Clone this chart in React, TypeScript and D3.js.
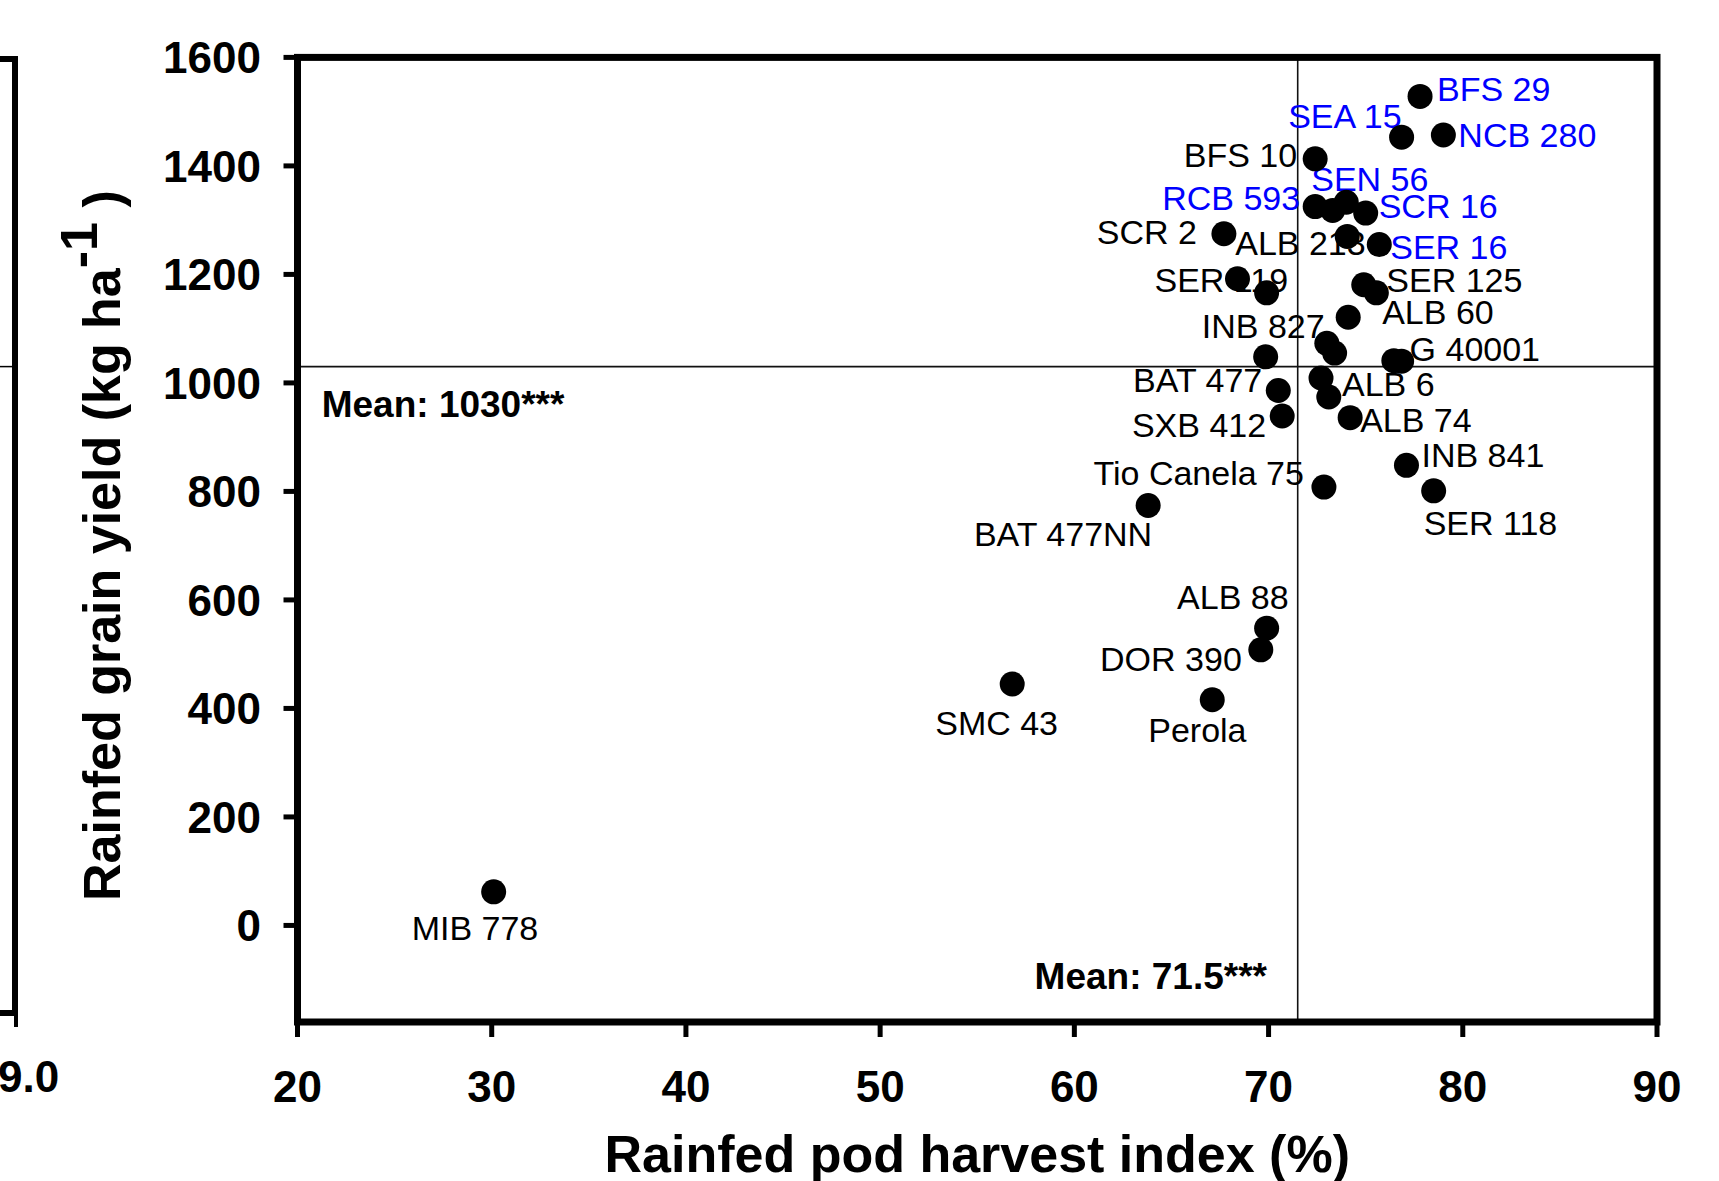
import React from "react";
import * as d3 from "d3";

// genotype, rainfed pod harvest index (%), rainfed grain yield (kg/ha)
const genotypes = [
  "MIB 778", "SMC 43", "Perola", "DOR 390", "ALB 88", "BAT 477NN", "Tio Canela 75",
  "INB 841", "SER 118", "ALB 74", "SXB 412", "BAT 477", "", "ALB 6", "INB 827",
  "", "", "", "G 40001", "ALB 60", "", "SER 125", "SER 119", "", "SCR 2",
  "ALB 213", "SER 16", "RCB 593", "", "SEN 56", "SCR 16", "BFS 10", "SEA 15",
  "NCB 280", "BFS 29",
];
const podHarvestIndex = [
  30.1, 56.8, 67.1, 69.6, 69.9, 63.8, 72.85,
  77.1, 78.5, 74.2, 70.7, 70.5, 73.1, 72.7, 69.85,
  73.0, 73.4, 76.45, 76.85, 74.1, 74.9, 75.55, 68.4, 69.9, 67.7,
  74.05, 75.7, 72.4, 73.3, 74.0, 75.0, 72.4, 76.85,
  79.0, 77.8,
];
const grainYield = [
  62, 445, 416, 508, 548, 774, 808,
  848, 801, 936, 939, 986, 974, 1009, 1048,
  1073, 1055, 1041, 1040, 1121, 1181, 1166, 1192, 1166, 1275,
  1270, 1255, 1325, 1318, 1333, 1313, 1413, 1453,
  1457, 1528,
];
// genotypes labelled in blue
const highlighted = ["BFS 29", "SEA 15", "NCB 280", "SEN 56", "RCB 593", "SCR 16", "SER 16"];

const xTicks = [20, 30, 40, 50, 60, 70, 80, 90];
const yTicks = [0, 200, 400, 600, 800, 1000, 1200, 1400, 1600];
const meanHI = 71.5;
const meanYield = 1030;

// label placement relative to its dot: [dx, dy, anchor]
const labelPos: Record<string, [number, number, string]> = {
  "MIB 778": [-82, 48, "start"],
  "SMC 43": [-77, 51, "start"],
  Perola: [-64, 42, "start"],
  "DOR 390": [-19, 21, "end"],
  "ALB 88": [22, -19, "end"],
  "BAT 477NN": [4, 40, "end"],
  "Tio Canela 75": [-20, -2, "end"],
  "INB 841": [15, 2, "start"],
  "SER 118": [-10, 44, "start"],
  "ALB 74": [10, 14, "start"],
  "SXB 412": [-16, 21, "end"],
  "BAT 477": [-16, 1, "end"],
  "ALB 6": [21, 18, "start"],
  "INB 827": [59, -19, "end"],
  "G 40001": [8, 0, "start"],
  "ALB 60": [34, 7, "start"],
  "SER 125": [10, -1, "start"],
  "SER 119": [-83, 13, "start"],
  "SCR 2": [-27, 10, "end"],
  "ALB 213": [-112, 19, "start"],
  "SER 16": [11, 14, "start"],
  "RCB 593": [-15, 3, "end"],
  "SEN 56": [-35, -11, "start"],
  "SCR 16": [13, 5, "start"],
  "BFS 10": [-18, 8, "end"],
  "SEA 15": [0, -9, "end"],
  "NCB 280": [15, 12, "start"],
  "BFS 29": [17, 5, "start"],
};

const W = 1719;
const H = 1181;
const FONT = "'Liberation Sans', Arial, Helvetica, sans-serif";

export default function App() {
  const x = d3.scaleLinear().domain([20, 90]).range([297.5, 1657]);
  const y = d3.scaleLinear().domain([-178, 1600]).range([1022, 57.4]);

  const points = genotypes.map((g, i) => ({
    name: g,
    px: x(podHarvestIndex[i]),
    py: y(grainYield[i]),
  }));

  const [x0, x1] = x.range();
  const [y0, y1] = y.range();

  return (
    <svg
      width={W}
      height={H}
      style={{ position: "absolute", left: 0, top: 0, display: "block", background: "#fff" }}
      fontFamily={FONT}
    >
      <rect width={W} height={H} fill="#fff" />

      {/* edge of the neighbouring panel */}
      <g stroke="#000" fill="none">
        <path d="M0,59 H15 V1013 H0" strokeWidth={6} />
        <line x1={16} x2={16} y1={1013} y2={1027} strokeWidth={4} />
        <line x1={0} x2={13} y1={366.6} y2={366.6} strokeWidth={1.5} />
      </g>
      <text x={-2} y={1092} fontSize={44} fontWeight="bold">9.0</text>

      {/* mean lines */}
      <line x1={x0} x2={x1} y1={y(meanYield)} y2={y(meanYield)} stroke="#111" strokeWidth={1.6} />
      <line x1={x(meanHI)} x2={x(meanHI)} y1={y1} y2={y0} stroke="#111" strokeWidth={1.6} />

      {/* frame */}
      <rect x={x0} y={y1} width={x1 - x0} height={y0 - y1} fill="none" stroke="#000" strokeWidth={7} />

      {/* y ticks */}
      {yTicks.map((t) => (
        <g key={"y" + t}>
          <line x1={x0 - 14} x2={x0} y1={y(t)} y2={y(t)} stroke="#000" strokeWidth={5} />
          <text x={261} y={y(t)} dy="0.36em" textAnchor="end" fontSize={44} fontWeight="bold">
            {t}
          </text>
        </g>
      ))}
      {/* x ticks */}
      {xTicks.map((t) => (
        <g key={"x" + t}>
          <line x1={x(t)} x2={x(t)} y1={y0} y2={y0 + 15} stroke="#000" strokeWidth={5} />
          <text x={x(t)} y={1102} textAnchor="middle" fontSize={44} fontWeight="bold">
            {t}
          </text>
        </g>
      ))}

      {/* axis titles */}
      <text x={(x0 + x1) / 2} y={1172} textAnchor="middle" fontSize={52} fontWeight="bold">
        Rainfed pod harvest index (%)
      </text>
      <text transform="translate(120,901) rotate(-90)" fontSize={52} fontWeight="bold">
        Rainfed grain yield (kg ha
        <tspan dy={-23}>-1</tspan>
        <tspan dy={23}> )</tspan>
      </text>

      {/* mean annotations */}
      <text x={321.7} y={416.7} fontSize={37} fontWeight="bold">
        Mean: {meanYield}***
      </text>
      <text x={1267} y={989} textAnchor="end" fontSize={37} fontWeight="bold">
        Mean: {meanHI}***
      </text>

      {/* labels */}
      {points.map((p, i) =>
        p.name && labelPos[p.name] ? (
          <text
            key={"l" + i}
            x={p.px + labelPos[p.name][0]}
            y={p.py + labelPos[p.name][1]}
            textAnchor={labelPos[p.name][2] as any}
            fontSize={34}
            fill={highlighted.includes(p.name) ? "#0000ff" : "#000"}
          >
            {p.name}
          </text>
        ) : null
      )}

      {/* dots */}
      {points.map((p, i) => (
        <circle key={"c" + i} cx={p.px} cy={p.py} r={12.5} fill="#000" />
      ))}
    </svg>
  );
}
